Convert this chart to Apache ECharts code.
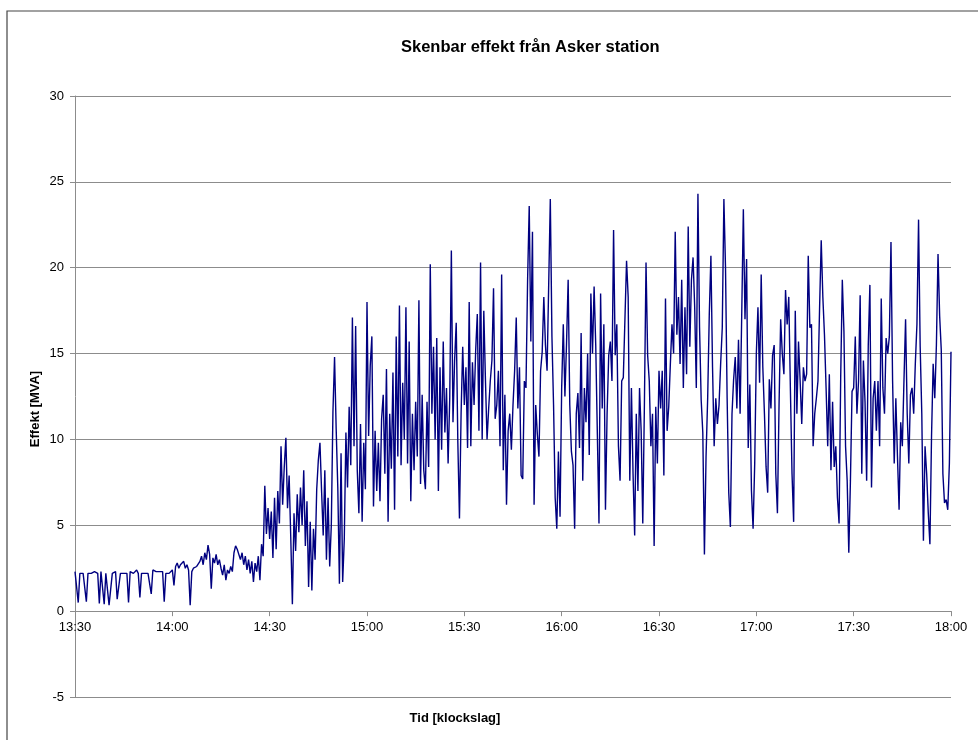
<!DOCTYPE html>
<html>
<head>
<meta charset="utf-8">
<script src="https://cdn.jsdelivr.net/npm/echarts@6/dist/echarts.min.js"></script>
<style>
  html, body { margin: 0; padding: 0; background: #fff; }
  #main { width: 978px; height: 740px; }
</style>
</head>
<body>
<div id="main"></div>
<script>
// Skenbar effekt [MVA], one value every 30 seconds, one array per half hour
var stepMin = 0.5;
var p1330 = [2.3, 2.2, 0.5, 2.2, 2.3, 2.2, 2.2, 0.55, 2.2, 2.3,
    2.2, 2.2, 2.3, 2.2, 2.2, 0.45, 2.3, 2.2, 0.4, 2.2,
    2.3, 0.35, 0.4, 2.2, 2.2, 2.3, 0.7, 0.6, 2.2, 2.3,
    2.2, 2.3, 2.2, 0.5, 2.3, 2.4, 2.2, 2.3, 2.4, 2.2,
    0.8, 2.2, 2.3, 2.2, 2.3, 2.2, 2.3, 1.0, 2.4, 2.5,
    2.3, 2.4, 2.3, 2.2, 2.3, 0.55, 2.2, 2.3, 2.2, 2.2];
var p1400 = [2.4, 1.5, 2.6, 2.8, 2.5, 2.7, 2.6, 2.9, 2.5, 2.7,
    2.4, 0.35, 2.3, 2.5, 2.4, 2.6, 2.5, 2.9, 3.2, 2.7,
    3.4, 3.0, 3.85, 3.3, 1.3, 3.1, 2.8, 3.3, 2.7, 3.0,
    2.5, 2.1, 2.7, 1.8, 2.4, 2.2, 2.6, 2.3, 3.4, 3.8,
    3.6, 3.7, 3.0, 3.4, 2.7, 3.2, 2.4, 3.0, 2.2, 2.9,
    1.7, 2.8, 2.3, 3.2, 1.8, 3.9, 3.2, 7.3, 4.5, 6.0];
var p1430 = [4.2, 5.8, 3.1, 6.6, 3.6, 7.0, 5.1, 9.6, 6.2, 8.4,
    10.1, 6.0, 7.9, 4.3, 0.4, 5.7, 3.5, 6.8, 4.6, 7.2,
    5.0, 8.2, 3.8, 6.4, 1.4, 5.2, 1.2, 4.8, 3.0, 7.1,
    8.8, 9.8, 7.0, 4.4, 8.2, 3.0, 6.6, 2.6, 5.0, 11.6,
    14.8, 10.6, 7.2, 1.6, 9.2, 1.7, 4.2, 10.4, 7.2, 11.9,
    8.5, 17.1, 9.6, 16.6, 8.2, 5.7, 10.9, 5.2, 9.8, 7.1];
var p1500 = [18.0, 10.2, 14.3, 16.0, 6.1, 10.5, 7.0, 9.8, 6.4, 11.2,
    12.6, 8.0, 14.1, 5.2, 11.5, 8.3, 13.9, 5.9, 16.0, 9.0,
    17.8, 8.5, 13.3, 10.0, 17.7, 8.6, 15.7, 6.4, 11.5, 8.2,
    12.2, 9.0, 18.1, 7.4, 12.6, 8.2, 7.1, 12.2, 8.4, 20.2,
    11.5, 15.4, 10.0, 15.9, 7.0, 14.2, 9.4, 15.7, 10.4, 13.0,
    8.6, 12.4, 21.0, 11.0, 14.6, 16.8, 9.8, 5.4, 11.5, 15.4];
var p1530 = [12.0, 14.2, 9.5, 18.0, 9.6, 14.5, 12.0, 15.2, 17.3, 10.5,
    20.3, 10.0, 17.5, 13.5, 10.0, 11.8, 13.4, 14.6, 18.8, 11.2,
    12.0, 14.0, 9.6, 19.6, 8.2, 12.6, 6.2, 10.5, 11.5, 9.4,
    12.0, 14.0, 17.1, 11.8, 14.2, 7.9, 7.7, 13.4, 13.0, 19.3,
    23.6, 15.7, 22.1, 6.2, 12.0, 10.3, 9.0, 14.0, 15.1, 18.3,
    15.5, 14.0, 19.0, 24.0, 16.0, 12.0, 6.6, 4.8, 9.3, 5.5];
var p1600 = [13.0, 16.7, 12.5, 15.6, 19.3, 12.0, 9.3, 8.5, 4.8, 11.5,
    12.7, 9.5, 16.2, 7.6, 13.0, 11.0, 15.0, 9.1, 18.5, 15.0,
    18.9, 15.5, 10.3, 5.1, 18.5, 11.8, 16.7, 5.9, 11.5, 14.9,
    15.7, 13.4, 22.2, 14.9, 16.7, 9.6, 7.6, 13.4, 13.6, 13.6,
    20.4, 18.3, 7.6, 13.0, 8.0, 4.4, 11.5, 7.0, 13.0, 10.5,
    5.1, 12.0, 20.3, 14.9, 13.4, 9.6, 11.5, 3.8, 11.9, 8.6];
var p1630 = [14.0, 11.8, 14.0, 7.9, 18.2, 10.5, 11.9, 14.4, 16.7, 15.0,
    22.1, 16.1, 18.3, 14.4, 19.3, 13.0, 17.7, 13.8, 22.4, 15.4,
    19.3, 20.6, 17.7, 13.0, 24.3, 16.5, 12.3, 10.4, 3.3, 9.0,
    12.4, 17.3, 20.7, 14.2, 9.6, 12.4, 10.9, 12.0, 14.4, 16.5,
    24.0, 20.0, 12.4, 6.9, 4.9, 11.5, 13.5, 14.8, 11.8, 15.8,
    11.5, 17.3, 23.4, 17.0, 20.5, 9.5, 13.2, 7.0, 4.8, 8.6];
var p1700 = [15.0, 17.7, 13.3, 19.6, 14.2, 11.5, 8.4, 6.9, 13.5, 11.8,
    14.9, 15.5, 8.0, 5.7, 12.0, 17.0, 15.0, 13.8, 18.7, 16.7,
    18.3, 12.9, 8.0, 5.2, 17.5, 11.5, 15.7, 13.4, 10.9, 14.2,
    13.4, 13.8, 20.7, 16.5, 16.7, 9.6, 11.5, 12.4, 13.4, 17.7,
    21.6, 18.3, 16.1, 13.0, 9.6, 13.8, 8.2, 12.2, 8.4, 9.6,
    6.6, 5.1, 13.6, 19.3, 16.3, 9.6, 7.6, 3.4, 7.6, 12.8];
var p1730 = [13.0, 16.0, 11.5, 13.4, 18.4, 8.0, 14.6, 12.2, 7.6, 15.5,
    19.0, 7.2, 12.4, 13.4, 10.5, 13.4, 9.6, 18.2, 13.0, 11.5,
    15.9, 15.0, 16.0, 21.5, 13.4, 8.6, 12.4, 9.0, 5.9, 11.0,
    9.6, 13.4, 17.0, 11.5, 8.6, 12.6, 13.0, 11.5, 14.4, 16.7,
    22.8, 15.4, 11.5, 4.1, 9.6, 8.0, 5.7, 3.9, 10.2, 14.4,
    12.4, 15.5, 20.8, 17.2, 15.2, 8.0, 6.3, 6.5, 5.9, 8.6,
    15.1];
var xTicks = ['13:30', '14:00', '14:30', '15:00', '15:30', '16:00', '16:30', '17:00', '17:30', '18:00'];
var yTicks = [-5, 0, 5, 10, 15, 20, 25, 30];

var values = [].concat(p1330, p1400, p1430, p1500, p1530, p1600, p1630, p1700, p1730);
var data = [];
for (var i = 0; i < values.length; i++) {
    data.push([i * stepMin, values[i]]);
}

var font = "'Liberation Sans', Arial, sans-serif";
var gridGrey = '#8c8c8c';
var gridTop = 96, gridBottom = 43, chartH = 740;
var yMin = yTicks[0], yMax = yTicks[yTicks.length - 1];
// lift the time axis from the bottom of the grid up to the zero line
var plotH = chartH - gridTop - gridBottom;
var zeroLift = -plotH * (0 - yMin) / (yMax - yMin);

var option = {
    animation: false,
    backgroundColor: '#fff',
    title: {
        text: 'Skenbar effekt från Asker station',
        left: 396,
        top: 34,
        textStyle: { fontFamily: font, fontSize: 16.5, fontWeight: 'bold', color: '#000' }
    },
    grid: { left: 75, right: 27, top: gridTop, bottom: gridBottom },
    xAxis: {
        type: 'value',
        min: 0,
        max: 270,
        interval: 30,
        offset: zeroLift,
        axisLine: { onZero: false, lineStyle: { color: gridGrey, width: 1 } },
        axisTick: { show: true, length: 5, lineStyle: { color: gridGrey } },
        splitLine: { show: false },
        axisLabel: {
            margin: 10,
            fontFamily: font,
            fontSize: 13,
            color: '#000',
            formatter: function (v) { return xTicks[Math.round(v / 30)] || ''; }
        }
    },
    yAxis: {
        type: 'value',
        min: yMin,
        max: yMax,
        interval: 5,
        axisLine: { show: true, lineStyle: { color: gridGrey, width: 1 } },
        axisTick: { show: true, length: 5, lineStyle: { color: gridGrey } },
        splitLine: { show: true, lineStyle: { color: gridGrey, width: 1 } },
        axisLabel: { margin: 11, fontFamily: font, fontSize: 13, color: '#000' }
    },
    graphic: [
        {
            type: 'polyline',
            shape: { points: [[7, 740], [7, 11], [978, 11]] },
            style: { stroke: '#444', lineWidth: 1.2, fill: null }
        },
        {
            type: 'text',
            x: 455,
            y: 718,
            style: {
                text: 'Tid [klockslag]', fill: '#000',
                font: 'bold 13px ' + font,
                textAlign: 'center', textVerticalAlign: 'middle'
            }
        },
        {
            type: 'text',
            x: 35,
            y: 409,
            rotation: Math.PI / 2,
            style: {
                text: 'Effekt [MVA]', fill: '#000',
                font: 'bold 13px ' + font,
                textAlign: 'center', textVerticalAlign: 'middle'
            }
        }
    ],
    series: [{
        type: 'line',
        data: data,
        showSymbol: false,
        sampling: null,
        lineStyle: { color: '#000080', width: 1.4 },
        itemStyle: { color: '#000080' }
    }]
};

var mychart = echarts.init(document.getElementById('main'));
mychart.setOption(option);
</script>
</body>
</html>
